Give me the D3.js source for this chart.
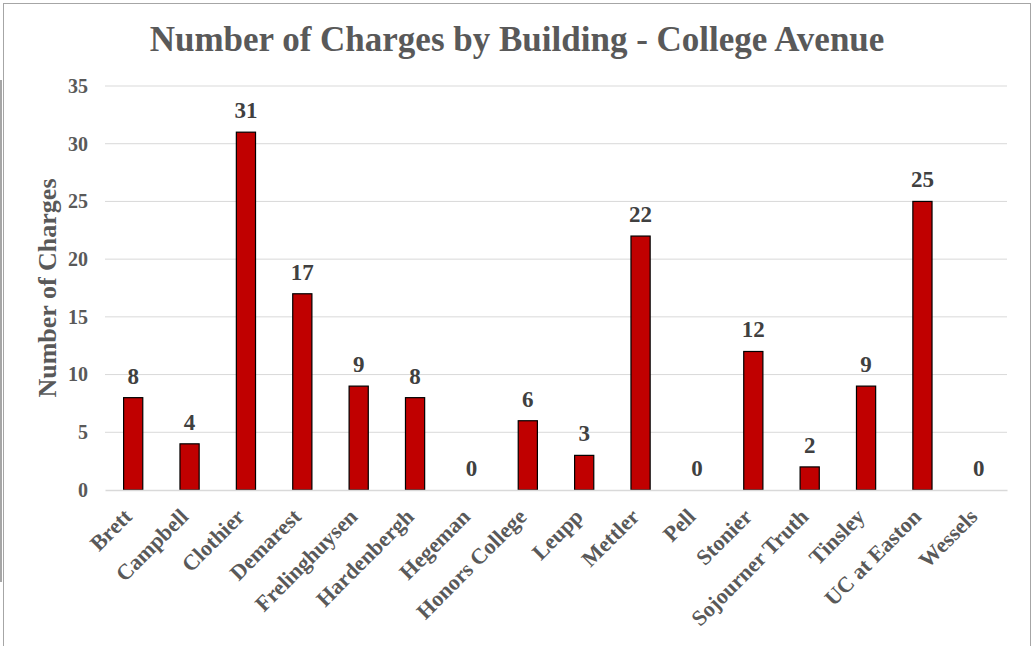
<!DOCTYPE html>
<html><head><meta charset="utf-8">
<script src="https://cdn.jsdelivr.net/npm/d3@7/dist/d3.min.js"></script>
<style>body{margin:0;background:#fff;} svg{display:block;}</style>
</head><body>
<svg id="c" width="1035" height="646"></svg>
<script>
const categories = ["Brett","Campbell","Clothier","Demarest","Frelinghuysen","Hardenbergh","Hegeman","Honors College","Leupp","Mettler","Pell","Stonier","Sojourner Truth","Tinsley","UC at Easton","Wessels"];
const charges = [8,4,31,17,9,8,0,6,3,22,0,12,2,9,25,0];
const yTicks = [0,5,10,15,20,25,30,35];
const titleText = "Number of Charges by Building - College Avenue";
const yTitle = "Number of Charges";

const svg = d3.select("#c");
const font = "'Liberation Serif','Times New Roman',serif";
// border
svg.append("rect").attr("x",3.5).attr("y",3.5).attr("width",1027).attr("height",660)
  .attr("fill","none").attr("stroke","#a6a6a6").attr("stroke-width",1);
svg.append("line").attr("x1",1).attr("x2",1).attr("y1",80).attr("y2",582)
  .attr("stroke","#a6a6a6").attr("stroke-width",2);

const m = {l:105, r:1007, t:86, b:490};
const x = d3.scaleBand().domain(categories).range([m.l,m.r]).paddingInner(0.66).paddingOuter(0.33);
const y = d3.scaleLinear().domain([0,35]).range([m.b,m.t]);

// gridlines
svg.append("g").selectAll("line").data(yTicks.filter(d=>d>0)).join("line")
  .attr("x1",m.l).attr("x2",m.r).attr("y1",d=>y(d)).attr("y2",d=>y(d))
  .attr("stroke","#d9d9d9").attr("stroke-width",1);

// y axis
const yAxis = svg.append("g").attr("transform",`translate(${m.l},0)`)
  .call(d3.axisLeft(y).tickValues(yTicks).tickSize(0).tickPadding(17));
yAxis.select(".domain").remove();
yAxis.selectAll("text").attr("font-family",font).attr("font-weight","bold")
  .attr("font-size","20px").attr("fill","#595959");

// bars
svg.append("g").selectAll("rect").data(categories).join("rect")
  .attr("x",d=>x(d)).attr("width",x.bandwidth())
  .attr("y",(d,i)=>y(charges[i])).attr("height",(d,i)=>y(0)-y(charges[i]))
  .attr("fill","#c00000").attr("stroke","#000").attr("stroke-width",1.2);

// x axis line
const xAxis = svg.append("g").attr("transform",`translate(0,${m.b})`)
  .call(d3.axisBottom(x).tickSize(0).tickPadding(0));
xAxis.select(".domain").attr("stroke","#d9d9d9").attr("stroke-width",1.5);
xAxis.selectAll("text").attr("font-family",font).attr("font-weight","bold")
  .attr("font-size","22px").attr("fill","#595959")
  .attr("text-anchor","end").attr("dy",null)
  .attr("transform","translate(0,28) rotate(-45)");

// data labels
svg.append("g").selectAll("text").data(categories).join("text")
  .attr("x",d=>x(d)+x.bandwidth()/2).attr("y",(d,i)=>y(charges[i])-14)
  .attr("text-anchor","middle").attr("font-family",font).attr("font-weight","bold")
  .attr("font-size","23px").attr("fill","#404040")
  .text((d,i)=>charges[i]);

// title
svg.append("text").attr("x",517).attr("y",51).attr("text-anchor","middle")
  .attr("font-family",font).attr("font-weight","bold").attr("font-size","35px")
  .attr("fill","#595959").text(titleText);

// y title
svg.append("text").attr("transform",`translate(56,288) rotate(-90)`).attr("text-anchor","middle")
  .attr("font-family",font).attr("font-weight","bold").attr("font-size","26px")
  .attr("fill","#595959").text(yTitle);
</script>
</body></html>
